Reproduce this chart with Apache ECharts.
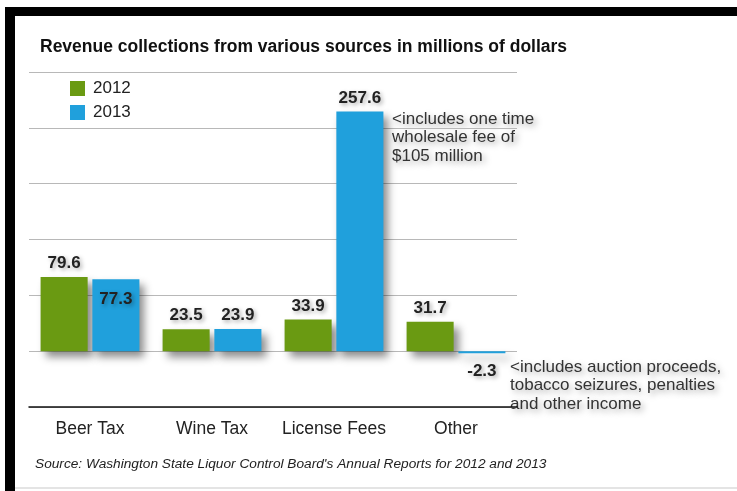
<!DOCTYPE html>
<html>
<head>
<meta charset="utf-8">
<script src="https://cdn.jsdelivr.net/npm/echarts@6/dist/echarts.min.js"></script>
<style>
    html, body { margin: 0; padding: 0; background: #fff; }
    #main { width: 737px; height: 491px; }
</style>
</head>
<body>
<div id="main"></div>
<script>
    var categories = ['Beer Tax', 'Wine Tax', 'License Fees', 'Other'];
    var values2012 = [79.6, 23.5, 33.9, 31.7];
    var values2013 = [77.3, 23.9, 257.6, -2.3];
    var seriesNames = ['2012', '2013'];

    var green = '#6a9a12';
    var blue = '#20a0dc';
    var font = '"Liberation Sans", Arial, sans-serif';

    var barShadow = {
        shadowColor: 'rgba(0,0,0,0.45)',
        shadowBlur: 8,
        shadowOffsetX: 5,
        shadowOffsetY: 6
    };
    var labelStyle = {
        show: true,
        position: 'top',
        distance: 5,
        fontFamily: font,
        fontSize: 17,
        fontWeight: 'bold',
        color: '#222',
        textShadowColor: 'rgba(0,0,0,0.35)',
        textShadowBlur: 4,
        textShadowOffsetX: 2,
        textShadowOffsetY: 2
    };
    var noteStyle = {
        fontFamily: font,
        fontSize: 17,
        lineHeight: 18.5,
        fill: '#333',
        textShadowColor: 'rgba(0,0,0,0.35)',
        textShadowBlur: 6,
        textShadowOffsetX: 3,
        textShadowOffsetY: 3
    };

    var data2013 = values2013.map(function (v, i) {
        var item = { value: v };
        if (i === 0) item.label = { position: 'insideTop', distance: 12 };
        if (v < 0) item.label = { position: 'bottom', distance: 10 };
        return item;
    });

    var myChart = echarts.init(document.getElementById('main'));
    var option = {
        backgroundColor: '#fff',
        animation: false,
        title: {
            text: 'Revenue collections from various sources in millions of dollars',
            left: 35,
            top: 33,
            textStyle: { fontFamily: font, fontSize: 17.5, fontWeight: 'bold', color: '#111' }
        },
        legend: {
            data: seriesNames,
            orient: 'vertical',
            left: 65,
            top: 75,
            itemWidth: 15,
            itemHeight: 15,
            itemGap: 7,
            icon: 'rect',
            textStyle: { fontFamily: font, fontSize: 17, lineHeight: 15, color: '#222', padding: [0, 0, 0, 3] }
        },
        grid: { left: 29, right: 220, top: 72, bottom: 84 },
        xAxis: {
            type: 'category',
            data: categories,
            axisLine: { onZero: false, lineStyle: { color: '#111', width: 1.5 } },
            axisTick: { show: false },
            axisLabel: { interval: 0, margin: 13, fontFamily: font, fontSize: 17.5, color: '#222' }
        },
        yAxis: {
            type: 'value',
            min: -60,
            max: 300,
            interval: 60,
            axisLabel: { show: false },
            axisLine: { show: false },
            axisTick: { show: false },
            splitLine: { lineStyle: { color: '#b8b8b8', width: 1 } }
        },
        series: [
            {
                name: seriesNames[0],
                type: 'bar',
                data: values2012,
                barCategoryGap: '19%',
                barGap: '10%',
                itemStyle: Object.assign({ color: green }, barShadow),
                label: labelStyle
            },
            {
                name: seriesNames[1],
                type: 'bar',
                data: data2013,
                barCategoryGap: '19%',
                barGap: '10%',
                itemStyle: Object.assign({ color: blue }, barShadow),
                label: labelStyle
            }
        ],
        graphic: [
            { type: 'rect', shape: { x: 5, y: 7, width: 732, height: 9 }, style: { fill: '#000' } },
            { type: 'rect', shape: { x: 5, y: 7, width: 10, height: 484 }, style: { fill: '#000' } },
            { type: 'rect', shape: { x: 15, y: 487, width: 722, height: 2 }, style: { fill: '#e4e4e4' } },
            {
                type: 'text', left: 392, top: 110,
                style: Object.assign({ text: '<includes one time\nwholesale fee of\n$105 million' }, noteStyle)
            },
            {
                type: 'text', left: 510, top: 358,
                style: Object.assign({ text: '<includes auction proceeds,\ntobacco seizures, penalties\nand other income' }, noteStyle)
            },
            {
                type: 'text', left: 35, top: 457,
                style: {
                    text: "Source: Washington State Liquor Control Board's Annual Reports for 2012 and 2013",
                    fontFamily: font, fontSize: 13.7, fontStyle: 'italic', fill: '#222'
                }
            }
        ]
    };
    myChart.setOption(option);
    window.onresize = function () { myChart.resize(); };
</script>
</body>
</html>
